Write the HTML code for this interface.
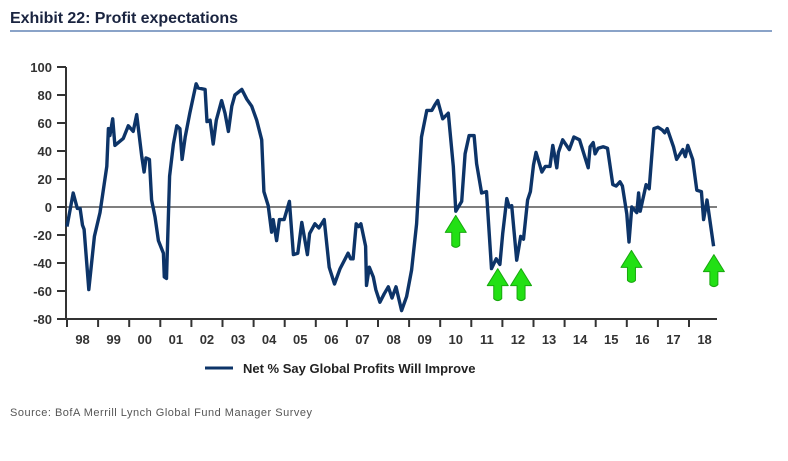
<!DOCTYPE html>
<html><head><meta charset="utf-8"><style>
body{margin:0;background:#fff;width:788px;height:456px;overflow:hidden;font-family:"Liberation Sans",sans-serif}
</style></head><body>
<svg width="788" height="456">
<text x="10" y="23" font-family="Liberation Sans Narrow, Liberation Sans, sans-serif" font-weight="bold" font-size="16" fill="#1a2440" textLength="228">Exhibit 22: Profit expectations</text>
<rect x="10" y="30" width="762" height="2" fill="#8aa3c8"/>
<g id="axes"></g>
<g id="series"></g>
<g id="arrows"></g>
<line x1="205" y1="368" x2="233" y2="368" stroke="#0d3468" stroke-width="3"/>
<text x="243" y="373" font-weight="bold" font-size="13" fill="#222">Net % Say Global Profits Will Improve</text>
<text x="10" y="416" font-size="11" fill="#555" textLength="302">Source:  BofA Merrill Lynch Global Fund Manager Survey</text>
</svg>
<script>
const yTicks=[100,80,60,40,20,0,-20,-40,-60,-80];
const xLabels=["98","99","00","01","02","03","04","05","06","07","08","09","10","11","12","13","14","15","16","17","18"];
const years=[1998.0,1998.2,1998.33,1998.42,1998.5,1998.55,1998.7,1998.88,1999.06,1999.28,1999.33,1999.38,1999.47,1999.54,1999.81,1999.97,2000.13,2000.24,2000.4,2000.48,2000.54,2000.65,2000.72,2000.83,2000.94,2001.1,2001.13,2001.2,2001.3,2001.42,2001.53,2001.63,2001.7,2001.8,2001.95,2002.15,2002.22,2002.44,2002.5,2002.6,2002.7,2002.8,2002.97,2003.08,2003.19,2003.3,2003.4,2003.62,2003.78,2003.94,2004.1,2004.26,2004.33,2004.47,2004.58,2004.63,2004.74,2004.83,2004.98,2005.15,2005.28,2005.42,2005.55,2005.73,2005.8,2005.97,2006.1,2006.27,2006.43,2006.6,2006.78,2007.04,2007.12,2007.2,2007.3,2007.38,2007.45,2007.6,2007.63,2007.72,2007.85,2007.93,2008.06,2008.2,2008.33,2008.45,2008.58,2008.76,2008.92,2009.08,2009.24,2009.4,2009.57,2009.73,2009.83,2009.92,2010.08,2010.26,2010.42,2010.5,2010.69,2010.8,2010.93,2011.09,2011.17,2011.33,2011.49,2011.65,2011.8,2011.92,2012.01,2012.14,2012.22,2012.3,2012.46,2012.59,2012.68,2012.81,2012.9,2013.0,2013.08,2013.27,2013.38,2013.53,2013.62,2013.75,2013.8,2013.94,2014.06,2014.15,2014.3,2014.48,2014.76,2014.82,2014.92,2014.98,2015.08,2015.24,2015.38,2015.55,2015.66,2015.78,2015.86,2016.0,2016.07,2016.16,2016.32,2016.38,2016.43,2016.62,2016.72,2016.87,2017.0,2017.14,2017.22,2017.3,2017.5,2017.6,2017.8,2017.88,2017.96,2018.12,2018.25,2018.4,2018.47,2018.58,2018.79];
const values=[-14,10,-1,-1,-13,-16,-59,-21,-4,29,56,51,63,44,49,58,54,66,37,25,35,34,5,-7,-24,-33,-50,-51,22,45,58,56,34,50,67,88,85,84,61,62,45,62,76,67,54,72,80,84,77,72,62,48,11,1,-18,-9,-24,-9,-9,4,-34,-33,-11,-34,-19,-12,-15,-9,-43,-55,-44,-33,-37,-37,-12,-14,-12,-28,-56,-43,-50,-59,-68,-62,-57,-65,-57,-74,-64,-45,-12,50,69,69,73,76,63,67,29,-3,4,38,51,51,31,10,11,-44,-37,-41,-19,6,0,1,-38,-21,-23,5,11,30,39,25,29,29,44,28,39,48,44,41,50,48,28,43,46,38,42,43,42,16,15,18,15,-5,-25,0,-4,10,-3,16,13,56,57,55,53,56,43,34,41,36,44,34,12,11,-9,5,-28];
const arrowYears=[2010.5,2011.85,2012.6,2016.15,2018.8];
const arrowTops=[-6,-44,-44,-31,-34];
const NS='http://www.w3.org/2000/svg';
const x0=67,yrW=31.1,y0=207,k=1.4;
const xs=yr=>x0+(yr-1998)*yrW;
const ys=v=>y0-v*k;
function mk(tag,attrs,parent){const e=document.createElementNS(NS,tag);for(const a in attrs)e.setAttribute(a,attrs[a]);parent.appendChild(e);return e;}
const ax=document.getElementById('axes');
let e=mk('line',{x1:66,y1:ys(100),x2:66,y2:ys(-80),stroke:'#333','stroke-width':2},ax);


yTicks.forEach(v=>{
 let t=mk('line',{x1:57,y1:ys(v),x2:66,y2:ys(v),stroke:'#333','stroke-width':2},ax);
 
 
 let l=mk('text',{x:52,y:ys(v)+5,'text-anchor':'end','font-size':13,'font-weight':'bold',fill:'#333'},ax);
 l.textContent=v;
 
 
});
e=mk('line',{x1:66,y1:y0,x2:717,y2:y0,stroke:'#333','stroke-width':1.2},ax);


e=mk('line',{x1:66,y1:ys(-80),x2:717,y2:ys(-80),stroke:'#333','stroke-width':2},ax);


xLabels.forEach((lab,i)=>{
 const xt=xs(1998+i);
 let t=mk('line',{x1:xt,y1:ys(-80),x2:xt,y2:ys(-80)+8,stroke:'#333','stroke-width':2},ax);
 
 
 let l=mk('text',{x:xt+yrW/2,y:344,'text-anchor':'middle','font-size':13,'font-weight':'bold',fill:'#333'},ax);
 l.textContent=lab;
 
 
});
const sg=document.getElementById('series');
const pts=years.map((y,i)=>xs(y).toFixed(1)+','+ys(values[i]).toFixed(1)).join(' ');
e=mk('polyline',{points:pts,fill:'none',stroke:'#0d3468','stroke-width':3.4,'stroke-linejoin':'round'},sg);


const ag=document.getElementById('arrows');
arrowYears.forEach((yr,i)=>{
 const cx=xs(yr),ty=ys(arrowTops[i]);
 const d=`M${cx},${ty} L${cx+10.5},${ty+17} L${cx+4},${ty+17} L${cx+4},${ty+30} Q${cx},${ty+34} ${cx-4},${ty+30} L${cx-4},${ty+17} L${cx-10.5},${ty+17} Z`;
 let a=mk('path',{d:d,fill:'#22e014',stroke:'#18a80e','stroke-width':1,'stroke-linejoin':'round'},ag);
 
 
});
</script>
</body></html>
